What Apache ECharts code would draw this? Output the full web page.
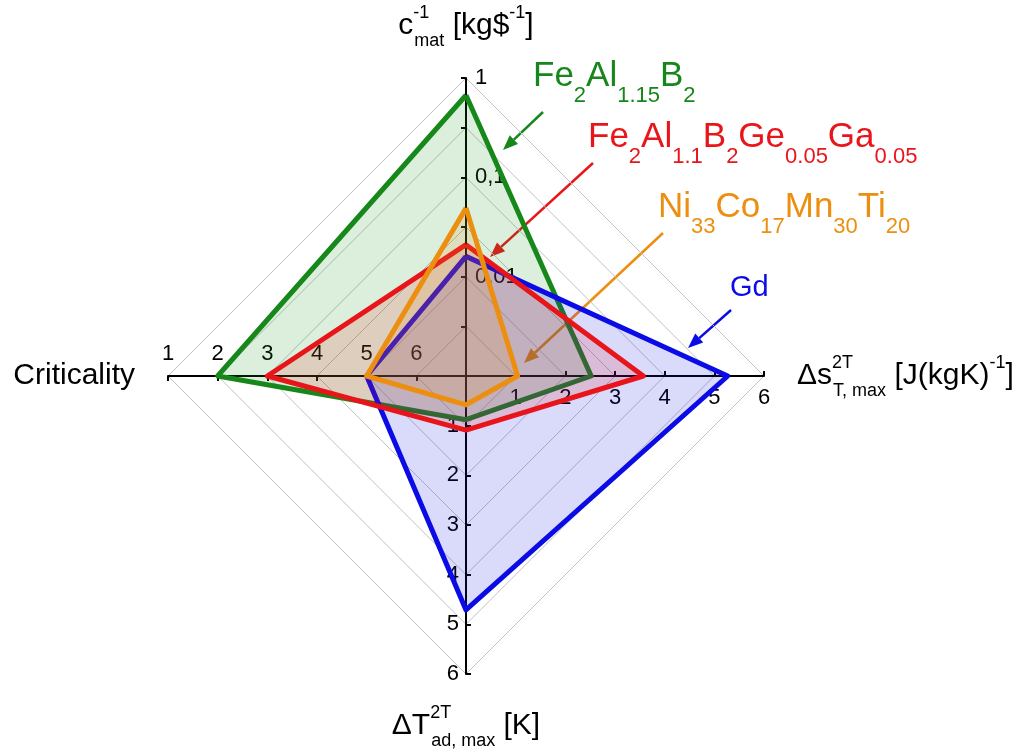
<!DOCTYPE html>
<html>
<head>
<meta charset="utf-8">
<script src="https://cdn.jsdelivr.net/npm/echarts@6/dist/echarts.min.js"></script>
<style>
  html, body { margin: 0; padding: 0; background: #fff; }
  #chart { width: 1029px; height: 754px; }
</style>
</head>
<body>
<div id="chart"></div>
<script>
// materials in drawing order (green at the back, orange on top)
const materials = ['Fe2Al1.15B2', 'Gd', 'Fe2Al1.1B2Ge0.05Ga0.05', 'Ni33Co17Mn30Ti20'];
// inverse material cost [kg/$], log axis 0.001 .. 1
const costInv = [0.67, 0.016, 0.021, 0.049];
// criticality, 1 at the rim, 7 at the centre
const criticality = [2, 5, 3, 5];
// dT ad,max [K]
const dTad = [0.88, 4.71, 1.09, 0.58];
// ds T,max [J/(kgK)]
const dsT = [2.52, 5.27, 3.57, 1.04];
// tick labels of the log axis (radar unit -> text)
const costTicks = { 2: '0,01', 4: '0,1', 6: '1' };

const lineColors = ['#17871b', '#0b0be6', '#e8151b', '#ec8f10'];
const fillColors = ['rgba(25,150,25,0.22)', 'rgba(15,15,230,0.22)', 'rgba(232,25,25,0.22)', 'rgba(236,145,20,0.22)'];

const FONT = '"Liberation Sans", Arial, sans-serif';

// radar works in 0..6 units on every spoke
function costToUnit(v) { return 2 * (Math.log10(v) + 3); }
function critToUnit(v) { return 7 - v; }

const seriesData = materials.map(function (m, i) {
  return {
    name: m,
    value: [costToUnit(costInv[i]), critToUnit(criticality[i]), dTad[i], dsT[i]],
    lineStyle: { color: lineColors[i], width: 5 },
    areaStyle: { color: fillColors[i] },
    itemStyle: { color: lineColors[i] }
  };
});

const nameRich = {
  b: { fontSize: 30, fontFamily: FONT, color: '#000', align: 'left' },
  sp: { fontSize: 18, fontFamily: FONT, color: '#000', verticalAlign: 'top', height: 12, width: 1, align: 'left' },
  su: { fontSize: 18, fontFamily: FONT, color: '#000', verticalAlign: 'top', height: 12, align: 'left' },
  sb: { fontSize: 18, fontFamily: FONT, color: '#000', verticalAlign: 'bottom', height: 8, align: 'left' }
};

function tickLabel(extra) {
  return Object.assign({ show: true, color: '#000', fontSize: 22, fontFamily: FONT }, extra);
}

// legend texts with arrows
function arrow(x1, y1, x2, y2, color) {
  const a = Math.atan2(y2 - y1, x2 - x1);
  const L = 15, W = 6;
  const bx = x2 - L * Math.cos(a), by = y2 - L * Math.sin(a);
  return [
    { type: 'line', shape: { x1: x1, y1: y1, x2: bx, y2: by }, style: { stroke: color, lineWidth: 2.5 } },
    { type: 'polygon', shape: { points: [[x2, y2],
        [bx + W * Math.sin(a), by - W * Math.cos(a)],
        [bx - W * Math.sin(a), by + W * Math.cos(a)]] }, style: { fill: color } }
  ];
}

function formula(x, y, text, color, size) {
  return {
    type: 'text', x: x, y: y,
    style: {
      text: text, fill: color, fontSize: size, fontFamily: FONT, lineHeight: 42,
      align: 'left', verticalAlign: 'middle',
      rich: { s: { fontSize: 22, fontFamily: FONT, fill: color, color: color, verticalAlign: 'bottom', height: 2 } }
    }
  };
}

const chart = echarts.init(document.getElementById('chart'));
chart.setOption({
  backgroundColor: '#fff',
  animation: false,
  radar: {
    center: [466, 376],
    radius: 298,
    startAngle: 90,
    shape: 'polygon',
    splitNumber: 6,
    nameGap: 33,
    axisName: { color: '#000', fontSize: 30, fontFamily: FONT, lineHeight: 38, rich: nameRich },
    axisLine: { lineStyle: { color: '#000', width: 2 } },
    axisTick: { show: true, length: 5, lineStyle: { color: '#000', width: 2 } },
    splitLine: { lineStyle: { color: '#c2c2c2', width: 1 } },
    splitArea: { show: false },
    indicator: [
      { name: '{b|c}{sp|-1}{sb|mat}{b| [kg$}{su|-1}{b|]}', min: 0, max: 6,
        axisLabel: tickLabel({ margin: -9, align: 'left', verticalAlign: 'middle',
          formatter: function (v) { return costTicks[Math.round(v)] || ''; } }) },
      { name: 'Criticality', min: 0, max: 6,
        axisLabel: tickLabel({ margin: -11, align: 'center', verticalAlign: 'bottom',
          formatter: function (v) { return v ? String(7 - v) : ''; } }) },
      { name: '{b|ΔT}{sp|2T}{sb|ad, max}{b| [K]}', min: 0, max: 6,
        axisLabel: tickLabel({ margin: -7, align: 'right', verticalAlign: 'middle',
          formatter: function (v) { return v ? String(v) : ''; } }) },
      { name: '{b|Δs}{sp|2T}{sb|T, max}{b| [J(kgK)}{su|-1}{b|]}', min: 0, max: 6,
        axisLabel: tickLabel({ margin: -11, align: 'center', verticalAlign: 'top',
          formatter: function (v) { return v ? String(v) : ''; } }) }
    ]
  },
  series: [{
    type: 'radar',
    symbol: 'none',
    data: seriesData
  }],
  graphic: [
    formula(533, 76, 'Fe{s|2}Al{s|1.15}B{s|2}', '#17871b', 35),
    formula(588, 137, 'Fe{s|2}Al{s|1.1}B{s|2}Ge{s|0.05}Ga{s|0.05}', '#e8151b', 35),
    formula(658, 207, 'Ni{s|33}Co{s|17}Mn{s|30}Ti{s|20}', '#ec8f10', 35),
    { type: 'text', x: 730, y: 288, style: { text: 'Gd', fill: '#0b0be6', fontSize: 29, fontFamily: FONT, verticalAlign: 'middle' } }
  ].concat(
    arrow(543, 112, 503, 150, '#17871b'),
    arrow(593, 163, 490, 257, '#e8151b'),
    arrow(663, 233, 524, 363, '#ec8f10'),
    arrow(731, 310, 688, 348, '#0b0be6')
  )
});
</script>
</body>
</html>
